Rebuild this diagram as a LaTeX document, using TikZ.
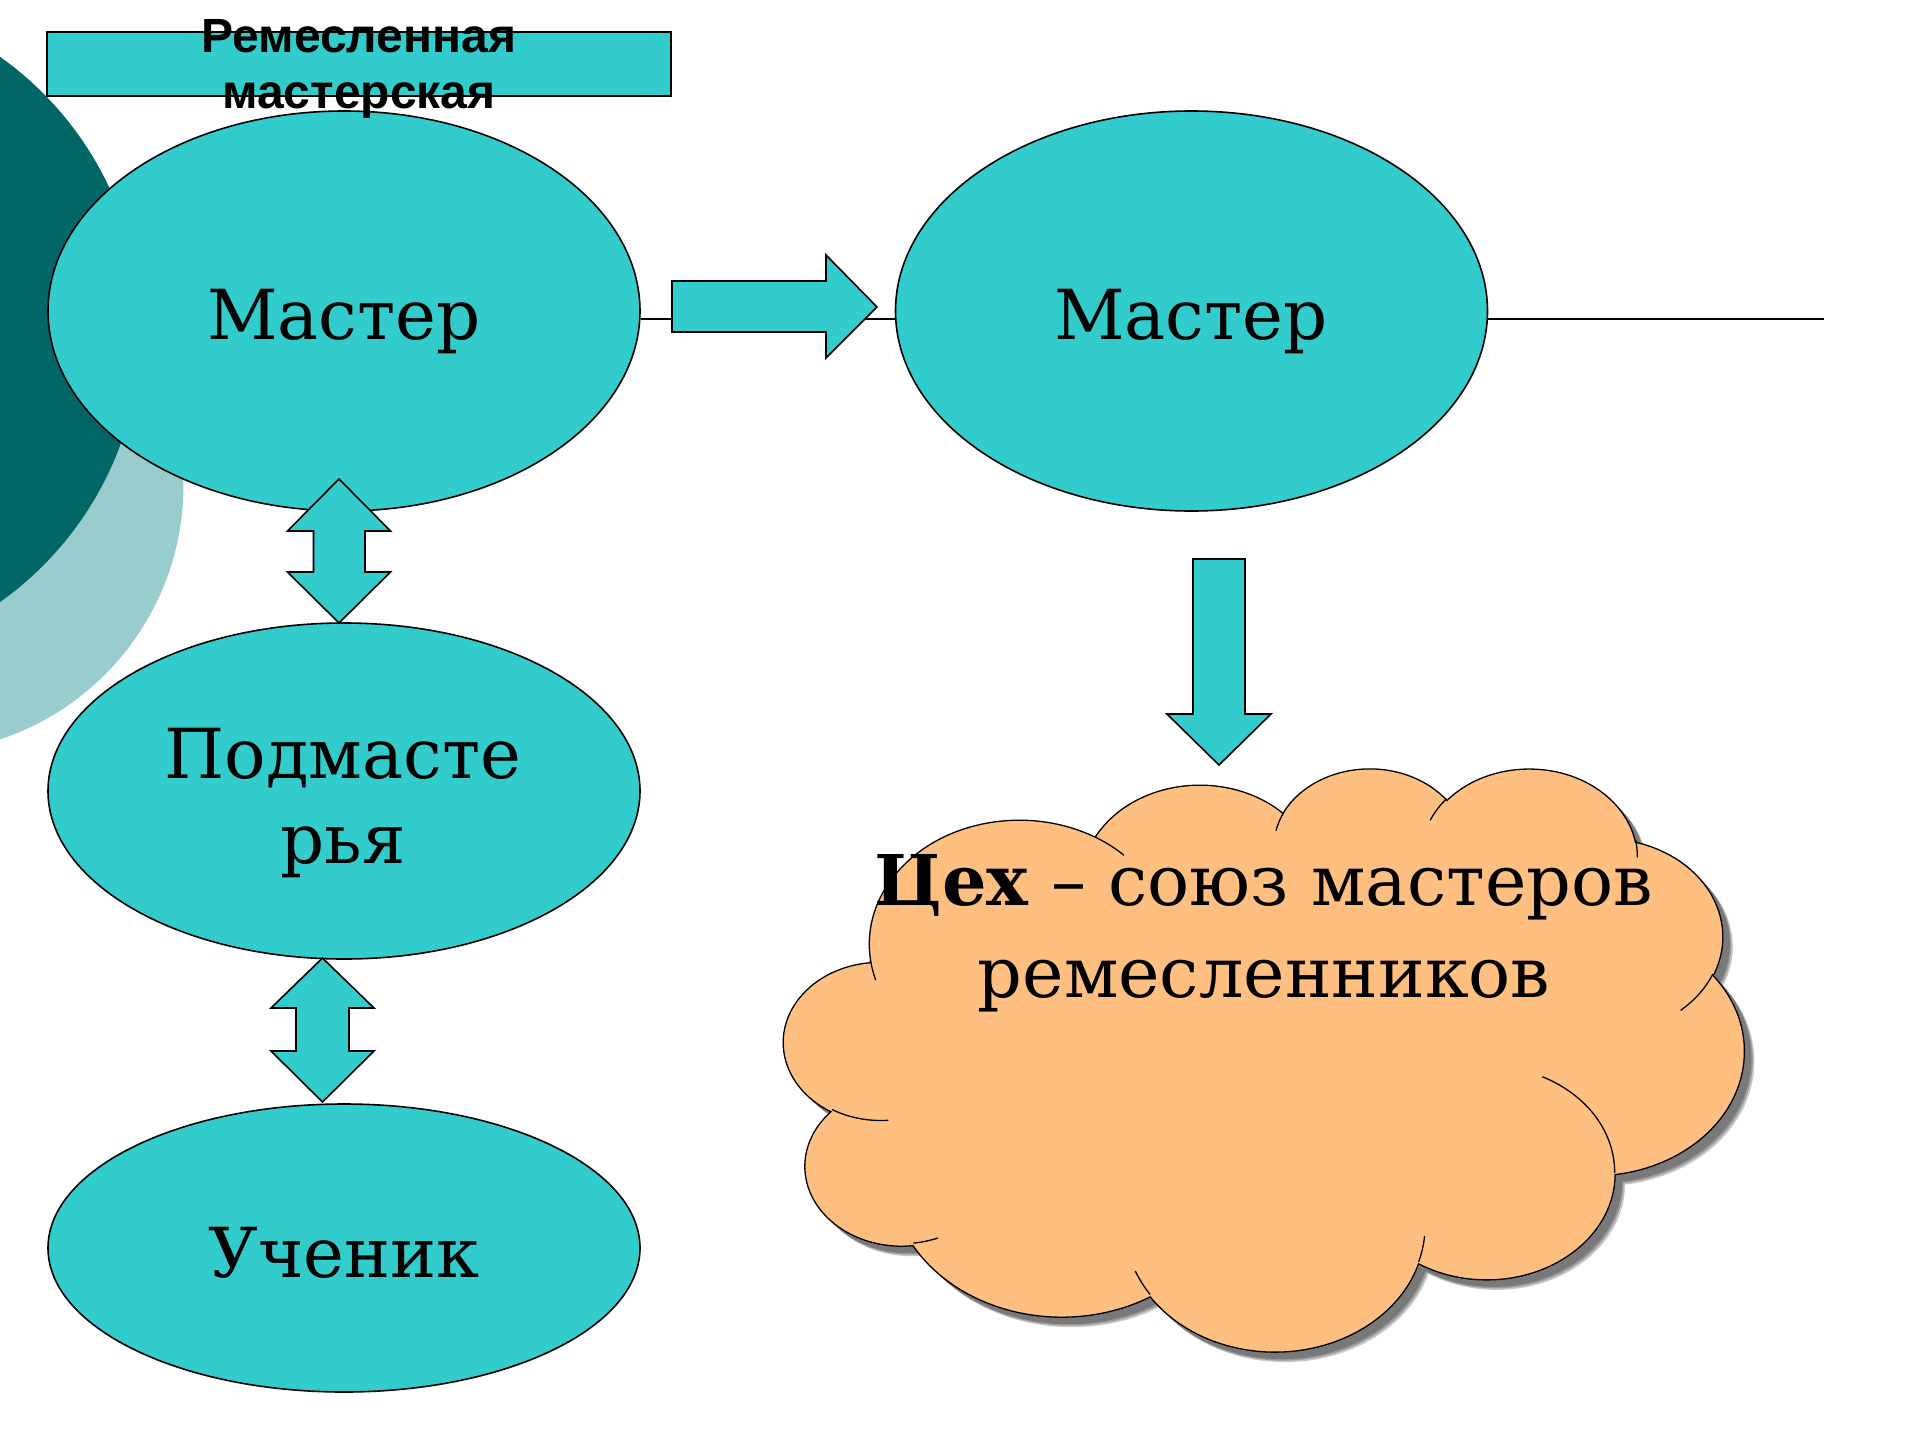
\documentclass[tikz,border=0pt]{standalone}
\usepackage{fontspec}
\setmainfont{DejaVu Serif}
\newfontfamily\titlefont{Liberation Sans}
\usetikzlibrary{shapes.geometric}
\definecolor{tealfill}{HTML}{33CCCC}
\definecolor{darkteal}{HTML}{006666}
\definecolor{lightteal}{HTML}{99CCCC}
\definecolor{cloudfill}{HTML}{FFBF80}

% arcTo with "visual" angles (DrawingML) -> parametric angles for TikZ
\newcommand\cloudang[5]{%
  \pgfmathsetmacro\cdtmpS{atan2((#2)*sin(#4),(#3)*cos(#4))}%
  \pgfmathsetmacro\cdtmpE{\cdtmpS+mod(atan2((#2)*sin((#4)+(#5)),(#3)*cos((#4)+(#5)))-(\cdtmpS)+720,360)}%
  \expandafter\xdef\csname cd#1s\endcsname{\cdtmpS}%
  \expandafter\xdef\csname cd#1e\endcsname{\cdtmpE}%
}
\cloudang{A}{675.3}{919.0}{-190.4875}{123.7805}
\cloudang{B}{533.3}{726.7}{-144.1024}{89.9452}
\cloudang{C}{436.5}{594.5}{-145.8079}{99.7230}
\cloudang{D}{485.7}{659.5}{-130.9861}{117.2417}
\cloudang{E}{533.3}{727.3}{-78.7089}{109.0269}
\cloudang{F}{677.5}{922.0}{-46.2673}{130.2690}
\cloudang{G}{578.5}{786.7}{0.6250}{114.0333}
\cloudang{H}{675.2}{921.5}{22.4516}{115.1726}
\cloudang{I}{772.0}{1054.3}{66.2426}{75.7110}
\cloudang{J}{436.0}{591.8}{-274.9421}{146.7356}
\cloudang{K}{434.5}{594.5}{-246.8285}{152.5189}
\cloudang{a}{434.5}{594.5}{86.7420}{26.4295}
\cloudang{b}{436.0}{591.8}{73.6105}{11.4475}
\cloudang{c}{675.2}{921.5}{137.6242}{14.0811}
\cloudang{d}{675.2}{921.5}{6.4533}{15.9984}
\cloudang{e}{578.5}{786.7}{-70.2924}{70.9174}
\cloudang{f}{533.3}{727.3}{30.3180}{27.7515}
\cloudang{g}{485.7}{659.5}{-13.7443}{14.8589}
\cloudang{h}{485.7}{659.5}{-149.1815}{18.1954}
\cloudang{i}{436.5}{594.5}{-163.4943}{17.6864}
\cloudang{j}{675.3}{919.0}{-66.7070}{12.3194}
\cloudang{k}{675.3}{919.0}{157.6544}{11.8582}

\newcommand\cloudoutline{(390,1437)
  arc[start angle=\cdAs,end angle=\cdAe,x radius=675.3,y radius=919.0]
  arc[start angle=\cdBs,end angle=\cdBe,x radius=533.3,y radius=726.7]
  arc[start angle=\cdCs,end angle=\cdCe,x radius=436.5,y radius=594.5]
  arc[start angle=\cdDs,end angle=\cdDe,x radius=485.7,y radius=659.5]
  arc[start angle=\cdEs,end angle=\cdEe,x radius=533.3,y radius=727.3]
  arc[start angle=\cdFs,end angle=\cdFe,x radius=677.5,y radius=922.0]
  arc[start angle=\cdGs,end angle=\cdGe,x radius=578.5,y radius=786.7]
  arc[start angle=\cdHs,end angle=\cdHe,x radius=675.2,y radius=921.5]
  arc[start angle=\cdIs,end angle=\cdIe,x radius=772.0,y radius=1054.3]
  arc[start angle=\cdJs,end angle=\cdJe,x radius=436.0,y radius=591.8]
  arc[start angle=\cdKs,end angle=\cdKe,x radius=434.5,y radius=594.5]
  -- cycle}

\begin{document}
\begin{tikzpicture}[x=1pt,y=-1pt,
  oval/.style={ellipse,fill=tealfill,draw=black,line width=1.6pt,inner sep=0pt},
  bigtext/.style={font=\fontsize{69}{85}\selectfont,inner sep=0pt},
  blockarrow/.style={fill=tealfill,draw=black,line width=1.6pt,line join=miter},
  thinline/.style={draw=black,line width=1.6pt},
  cloudline/.style={draw=black,line width=1.3pt},
  cloudscale/.style={x=0.22222pt,y=-0.134954pt}]
\useasboundingbox (0,0) rectangle (1920,1440);
\clip (0,0) rectangle (1920,1440);

% background circles
\fill[lightteal] (-84.5,485) circle[radius=268];
\fill[darkteal] (-193.5,329.4) circle[radius=334.3];

% title
\draw[fill=tealfill,draw=black,line width=2.2pt] (47,32) rectangle (671,96);

% ellipses
\node[oval,minimum width=592,minimum height=400] (e1) at (344,311) {};
\node[oval,minimum width=592,minimum height=400] (e2) at (1191.5,311) {};
\node[oval,minimum width=592,minimum height=336] (e3) at (344,791) {};
\node[oval,minimum width=592,minimum height=288] (e4) at (344,1248) {};

\node[bigtext,anchor=base] (t1) at (344,339) {Мастер};
\node[bigtext,anchor=base] (t2) at (1191,339) {Мастер};
\node[bigtext,anchor=base,align=center] (t3) at (343,863) {Подмасте\\рья};
\node[bigtext,anchor=base] (t4) at (344,1277) {Ученик};

% connecting lines
\coordinate (lineend) at (1824,319);
\draw[thinline] ([yshift=-8pt]e1.east) -- ([yshift=-8pt]e2.west);
\draw[thinline] ([yshift=-8pt]e2.east) -- (lineend);

% block arrows
\draw[blockarrow] (672,281) -- (826,281) -- (826,255) -- (877,307) -- (826,358) -- (826,332) -- (672,332) -- cycle;
\draw[blockarrow] (339,479) -- (390.5,531) -- (365,531) -- (365,572) -- (390.5,572) -- (339,623)
  -- (287.5,572) -- (313.5,572) -- (313.5,531) -- (287.5,531) -- cycle;
\draw[blockarrow] (322.5,958) -- (374,1008) -- (349,1008) -- (349,1051) -- (374,1051) -- (322.5,1102)
  -- (271,1051) -- (296,1051) -- (296,1008) -- (271,1008) -- cycle;
\draw[blockarrow] (1193,559) -- (1245,559) -- (1245,714) -- (1271,714) -- (1219,765) -- (1167,714) -- (1193,714) -- cycle;

% cloud shadow
\foreach \d in {10,8.5,7}{
  \begin{scope}[shift={(784+\d,767+\d)},cloudscale]
    \fill[black,opacity=0.22] \cloudoutline;
  \end{scope}
}
% cloud
\begin{scope}[shift={(784,767)},cloudscale]
  \path[fill=cloudfill,cloudline] \cloudoutline;
  \draw[cloudline] (469.3,2617.7) arc[start angle=\cdas,end angle=\cdae,x radius=434.5,y radius=594.5];
  \draw[cloudline] (692.8,3489.9) arc[start angle=\cdbs,end angle=\cdbe,x radius=436.0,y radius=591.8];
  \draw[cloudline] (1647.8,3909.0) arc[start angle=\cdcs,end angle=\cdce,x radius=675.2,y radius=921.5];
  \draw[cloudline] (2882.7,3475.1) arc[start angle=\cdds,end angle=\cdde,x radius=675.2,y radius=921.5];
  \draw[cloudline] (3412.9,2295.4) arc[start angle=\cdes,end angle=\cdee,x radius=578.5,y radius=786.7];
  \draw[cloudline] (4179.8,1535.4) arc[start angle=\cdfs,end angle=\cdfe,x radius=533.3,y radius=727.3];
  \draw[cloudline] (3832.4,542.6) arc[start angle=\cdgs,end angle=\cdge,x radius=485.7,y radius=659.5];
  \draw[cloudline] (2907.8,395.2) arc[start angle=\cdhs,end angle=\cdhe,x radius=485.7,y radius=659.5];
  \draw[cloudline] (2214.1,472.0) arc[start angle=\cdis,end angle=\cdie,x radius=436.5,y radius=594.5];
  \draw[cloudline] (1400.0,519.2) arc[start angle=\cdjs,end angle=\cdje,x radius=675.3,y radius=919.0];
  \draw[cloudline] (412.7,1578.9) arc[start angle=\cdks,end angle=\cdke,x radius=675.3,y radius=919.0];
\end{scope}

\node[inner sep=0pt,anchor=base,align=center,font=\fontsize{70}{92}\selectfont] (ctext) at (1264,997)
  {\textbf{Цех} – союз мастеров\\ремесленников};

% title text (drawn on top)
\node[anchor=base,align=center,inner sep=0pt,font=\titlefont\bfseries\fontsize{48}{56}\selectfont] (title) at (359,108)
  {Ремесленная\\мастерская};
\end{tikzpicture}
\end{document}
